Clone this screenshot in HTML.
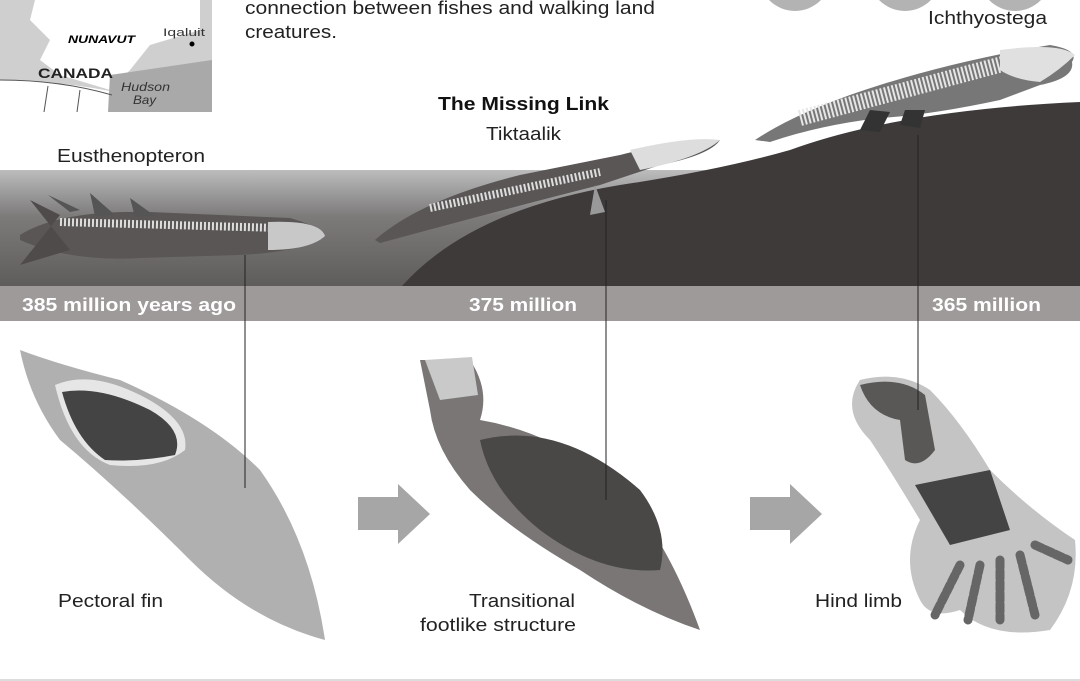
<!DOCTYPE html>
<html><head><meta charset="utf-8"><style>
html,body{margin:0;padding:0;background:#fff;}
svg{display:block;}
text{font-family:"Liberation Sans",sans-serif;}
</style></head><body>
<svg width="1080" height="681" viewBox="0 0 1080 681" xmlns="http://www.w3.org/2000/svg">
<defs>
<linearGradient id="water" x1="0" y1="0" x2="0" y2="1">
<stop offset="0" stop-color="#bdbdbd"/><stop offset="0.15" stop-color="#a3a3a3"/>
<stop offset="0.4" stop-color="#7d7a7a"/><stop offset="1" stop-color="#5f5c5c"/></linearGradient>
</defs>
<!-- map -->
<rect x="0" y="0" width="212" height="112" fill="#cfcfcf"/>
<path d="M35,0 L200,0 L200,30 L150,45 L130,70 L110,90 L60,75 L40,60 L50,40 L30,20Z" fill="#fff"/>
<path d="M0,80 Q60,80 130,95 L130,112 L0,112Z" fill="#fff"/>
<path d="M110,75 L212,60 L212,112 L108,112Z" fill="#a9a9a9"/>
<path d="M0,80 Q60,80 112,95" fill="none" stroke="#555" stroke-width="1"/>
<line x1="48" y1="86" x2="44" y2="112" stroke="#555"/><line x1="80" y1="90" x2="77" y2="112" stroke="#555"/>
<text x="68" y="43" font-size="11" font-weight="bold" font-style="italic" textLength="67" lengthAdjust="spacingAndGlyphs">NUNAVUT</text>
<text x="163" y="36" font-size="11" fill="#333" textLength="42" lengthAdjust="spacingAndGlyphs">Iqaluit</text>
<circle cx="192" cy="44" r="2.5" fill="#000"/>
<text x="38" y="78" font-size="14" font-weight="bold" fill="#222" textLength="75" lengthAdjust="spacingAndGlyphs">CANADA</text>
<text x="121" y="91" font-size="12" font-style="italic" fill="#333" textLength="49" lengthAdjust="spacingAndGlyphs">Hudson</text>
<text x="133" y="104" font-size="12" font-style="italic" fill="#333" textLength="23" lengthAdjust="spacingAndGlyphs">Bay</text>
<text x="245" y="14" font-size="18" fill="#222" textLength="410" lengthAdjust="spacingAndGlyphs">connection between fishes and walking land</text>
<text x="245" y="38" font-size="18" fill="#222" textLength="92" lengthAdjust="spacingAndGlyphs">creatures.</text>
<circle cx="795" cy="-25" r="36" fill="#b3b3b3"/>
<circle cx="905" cy="-25" r="36" fill="#b3b3b3"/>
<circle cx="1015" cy="-25" r="36" fill="#b3b3b3"/>
<text x="928" y="24" font-size="18" fill="#222" textLength="119" lengthAdjust="spacingAndGlyphs">Ichthyostega</text>
<text x="438" y="110" font-size="18" font-weight="bold" fill="#111" textLength="171" lengthAdjust="spacingAndGlyphs">The Missing Link</text>
<text x="486" y="140" font-size="18" fill="#222" textLength="75" lengthAdjust="spacingAndGlyphs">Tiktaalik</text>
<text x="57" y="162" font-size="18" fill="#222" textLength="148" lengthAdjust="spacingAndGlyphs">Eusthenopteron</text>
<!-- water -->
<rect x="0" y="170" width="1080" height="116" fill="url(#water)"/>
<!-- land -->
<path d="M402,286 Q470,210 620,185 Q720,170 790,150 Q900,110 1080,102 L1080,286Z" fill="#3f3a3a"/>
<!-- fish -->
<path d="M20,235 Q60,210 150,212 L290,218 Q325,228 322,238 Q300,252 240,255 L140,258 Q70,262 20,240Z" fill="#5a5656"/>
<path d="M30,200 L60,215 L40,240 L20,265 L70,250Z" fill="#4f4b4b"/>
<path d="M60,222 L280,228" stroke="#ddd" stroke-width="8" stroke-dasharray="2 2"/>
<path d="M268,222 Q320,220 325,236 Q310,250 268,250Z" fill="#c8c8c8"/>
<path d="M48,195 L80,210 L70,212Z M90,193 L115,215 L95,216Z M130,198 L155,216 L135,217Z" fill="#555"/>
<!-- tiktaalik -->
<path d="M375,240 Q420,200 520,175 L620,155 Q680,140 720,140 Q710,155 660,165 L600,185 Q520,205 380,243Z" fill="#5a5656"/>
<path d="M430,208 L600,172" stroke="#ddd" stroke-width="8" stroke-dasharray="2 2"/>
<path d="M630,150 Q690,136 720,140 Q700,158 640,170Z" fill="#ddd"/>
<path d="M595,185 L590,215 L605,212Z" fill="#999"/>
<!-- ichthyostega -->
<path d="M755,140 Q800,110 880,85 Q960,60 1050,45 Q1080,50 1072,62 Q1075,78 1040,85 L1000,100 Q930,115 880,118 Q820,125 770,142Z" fill="#777"/>
<path d="M800,118 L1010,62" stroke="#e6e6e6" stroke-width="16" stroke-dasharray="2 2"/>
<path d="M1000,50 Q1060,42 1075,55 Q1060,70 1040,82 Q1015,80 1000,70Z" fill="#e0e0e0"/>
<path d="M860,130 L870,110 L890,112 L880,132Z M900,125 L905,110 L925,110 L920,128Z" fill="#333"/>
<!-- time bar -->
<rect x="0" y="286" width="1080" height="35" fill="#9e9a9a"/>
<text x="22" y="311" font-size="18" font-weight="bold" fill="#fff" textLength="214" lengthAdjust="spacingAndGlyphs">385 million years ago</text>
<text x="469" y="311" font-size="18" font-weight="bold" fill="#fff" textLength="108" lengthAdjust="spacingAndGlyphs">375 million</text>
<text x="932" y="311" font-size="18" font-weight="bold" fill="#fff" textLength="109" lengthAdjust="spacingAndGlyphs">365 million</text>
<!-- pectoral fin -->
<path d="M20,350 Q60,365 120,380 Q210,420 260,470 Q310,540 325,640 Q250,620 190,560 Q120,490 60,440 Q30,400 20,350Z" fill="#b0b0b0"/>
<path d="M55,385 Q90,370 140,395 Q190,420 185,450 Q160,470 110,465 Q70,450 55,385Z" fill="#e6e6e6"/>
<path d="M62,392 Q100,385 150,410 Q185,430 175,455 Q140,462 105,460 Q75,440 62,392Z" fill="#444"/>
<!-- transitional -->
<path d="M420,360 L470,360 Q490,390 480,420 Q540,430 600,470 Q660,520 700,630 Q640,610 580,570 Q510,530 470,490 Q435,450 430,410Z" fill="#7a7676"/>
<path d="M425,360 L472,357 L478,395 L440,400Z" fill="#c9c9c9"/>
<path d="M480,440 Q560,420 640,490 Q670,530 660,570 Q600,575 540,530 Q490,490 480,440Z" fill="#4a4747"/>
<!-- hind limb -->
<path d="M860,380 Q900,370 930,390 Q960,420 990,470 Q1030,510 1075,540 Q1080,590 1050,630 Q990,640 960,610 Q930,620 920,600 Q900,560 920,520 Q890,470 870,440 Q840,410 860,380Z" fill="#c4c4c4"/>
<path d="M860,385 Q900,375 925,395 L935,450 Q920,470 905,460 L900,420 Q870,415 860,385Z" fill="#5a5757"/>
<path d="M915,485 L990,470 L1010,530 L950,545Z" fill="#444"/>
<g stroke="#666" stroke-width="9" stroke-linecap="round" stroke-dasharray="8 3">
<line x1="960" y1="565" x2="935" y2="615"/><line x1="980" y1="565" x2="968" y2="620"/>
<line x1="1000" y1="560" x2="1000" y2="620"/><line x1="1020" y1="555" x2="1035" y2="615"/>
<line x1="1035" y1="545" x2="1068" y2="560"/></g>
<!-- arrows -->
<path d="M358,497 L398,497 L398,484 L430,514 L398,544 L398,530 L358,530Z" fill="#a6a6a6"/>
<path d="M750,497 L790,497 L790,484 L822,514 L790,544 L790,530 L750,530Z" fill="#a6a6a6"/>
<!-- leader lines -->
<line x1="245" y1="255" x2="245" y2="488" stroke="#222" stroke-width="1"/>
<line x1="606" y1="200" x2="606" y2="500" stroke="#222" stroke-width="1"/>
<line x1="918" y1="135" x2="918" y2="410" stroke="#222" stroke-width="1"/>
<text x="58" y="607" font-size="18" fill="#222" textLength="105" lengthAdjust="spacingAndGlyphs">Pectoral fin</text>
<text x="469" y="607" font-size="18" fill="#222" textLength="106" lengthAdjust="spacingAndGlyphs">Transitional</text>
<text x="420" y="631" font-size="18" fill="#222" textLength="156" lengthAdjust="spacingAndGlyphs">footlike structure</text>
<text x="815" y="607" font-size="18" fill="#222" textLength="87" lengthAdjust="spacingAndGlyphs">Hind limb</text>
<line x1="0" y1="680" x2="1080" y2="680" stroke="#bbb" stroke-width="1"/>
</svg>
</body></html>
